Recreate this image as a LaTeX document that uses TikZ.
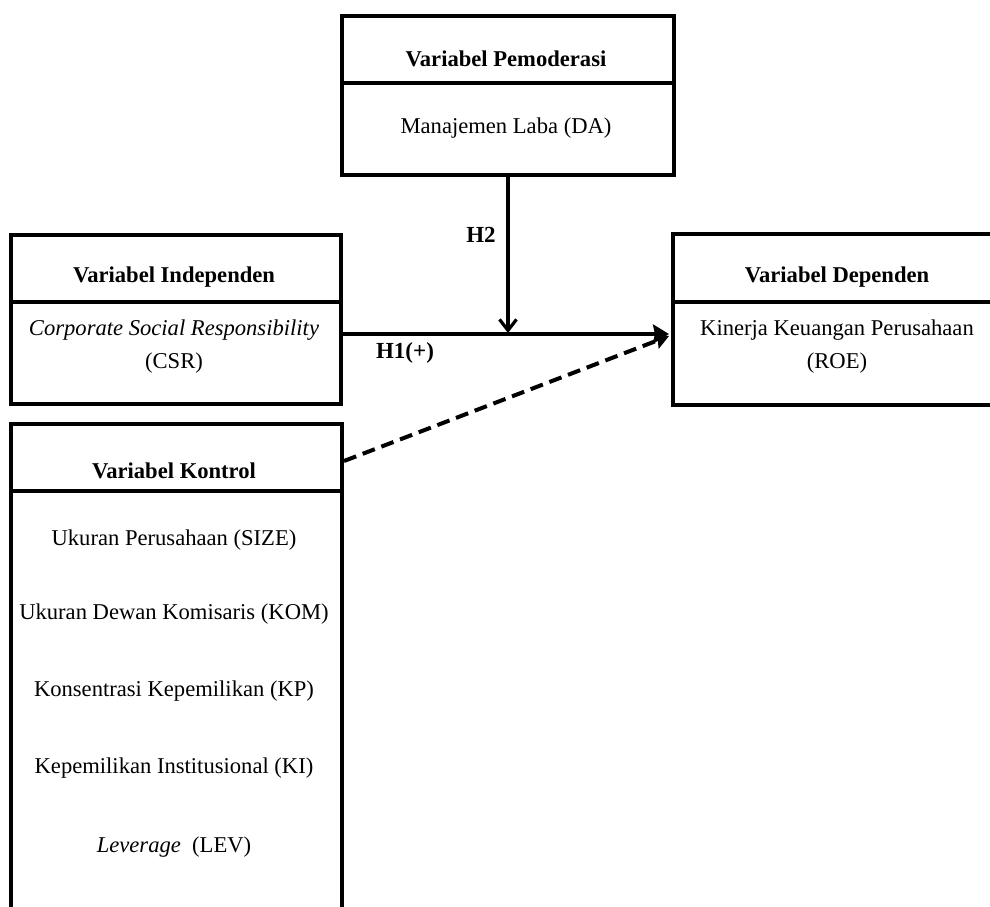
\documentclass[tikz,border=0pt]{standalone}
\usepackage{fontspec}
\setmainfont{Liberation Serif}
\usetikzlibrary{arrows.meta}
\begin{document}
\begin{tikzpicture}[x=1pt,y=-1pt,
  boxframe/.style={draw, line width=4pt, rectangle, inner sep=0pt, anchor=north west},
  divider/.style={line width=4pt},
  titletext/.style={font=\fontsize{22.6}{27}\selectfont\bfseries, inner sep=0pt},
  bodytext/.style={font=\fontsize{22.6}{33}\selectfont, inner sep=0pt, align=center},
  hlabel/.style={font=\fontsize{23}{27}\selectfont\bfseries, inner sep=0pt},
  conn/.style={line width=4pt},
  modconn/.style={line width=3.2pt}]
\clip (0,0) rectangle (990,906);
\fill[white] (0,0) rectangle (990,906);
% boxes
\node[boxframe, minimum width=332pt, minimum height=159pt] (mod) at (340,14) {};
\node[boxframe, minimum width=330pt, minimum height=169pt] (ind) at (9,233) {};
\node[boxframe, minimum width=332pt, minimum height=171pt] (dep) at (671,232) {};
\node[boxframe, minimum width=331pt, minimum height=520pt] (ctl) at (9,422) {};
% dividers
\draw[divider] (mod.west |- 0,83) -- (mod.east |- 0,83);
\draw[divider] (ind.west |- 0,302) -- (ind.east |- 0,302);
\draw[divider] (dep.west |- 0,302) -- (dep.east |- 0,302);
\draw[divider] (ctl.west |- 0,491) -- (ctl.east |- 0,491);
% texts
\node[titletext] (modT) at (506,59) {Variabel Pemoderasi};
\node[bodytext] (modB) at (506,128) {Manajemen Laba (DA)};
\node[titletext] (indT) at (174,277) {Variabel Independen};
\node[bodytext] (indB) at (174,347) {\textit{Corporate Social Responsibility}\\(CSR)};
\node[titletext] (depT) at (837,277) {Variabel Dependen};
\node[bodytext] (depB) at (837,347) {Kinerja Keuangan Perusahaan\\(ROE)};
\node[titletext] (ctlT) at (174,471) {Variabel Kontrol};
\node[bodytext] (c1) at (174,540) {Ukuran Perusahaan (SIZE)};
\node[bodytext] (c2) at (174,614) {Ukuran Dewan Komisaris (KOM)};
\node[bodytext] (c3) at (174,691) {Konsentrasi Kepemilikan (KP)};
\node[bodytext] (c4) at (174,768) {Kepemilikan Institusional (KI)};
\node[bodytext] (c5) at (174,847) {\textit{Leverage}\ \ (LEV)};
% connectors
\coordinate (h1start) at (ind.east |- 0,334);
\coordinate (h1end) at ([xshift=-2pt]dep.west |- 0,334);
\coordinate (h2end) at (mod.south |- 0,333);
\coordinate (dstart) at (ctl.east |- 0,461);
\coordinate (dend) at ([xshift=-2pt]dep.west |- 0,336);
\draw[conn, -{Stealth[length=16pt,width=19pt,inset=2pt]}] (h1start) -- (h1end);
\draw[modconn, -{Straight Barb[length=11pt,width=17pt]}] (mod.south) -- (h2end);
\draw[conn, dash pattern=on 13pt off 7pt, -{Stealth[length=14pt,width=16pt,inset=2pt]}] (dstart) -- (dend);
% labels
\node[hlabel] (h2) at (481,235) {H2};
\node[hlabel] (h1) at (405,353) {H1(+)};
\end{tikzpicture}
\end{document}
